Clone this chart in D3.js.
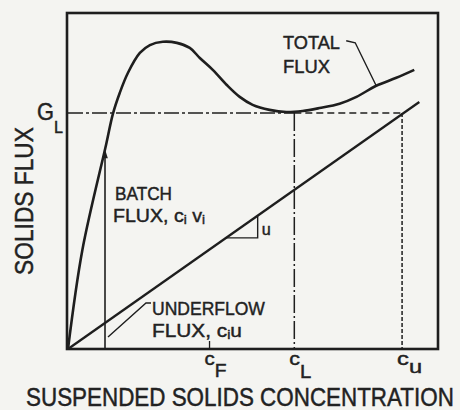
<!DOCTYPE html>
<html>
<head>
<meta charset="utf-8">
<script src="https://cdn.jsdelivr.net/npm/d3@7"></script>
<style>
body { margin: 0; background: #f4f4f1; }
svg { display: block; }
text { font-family: "Liberation Sans", Arial, sans-serif; fill: #222; stroke: #222; stroke-width: 0.45; }
</style>
</head>
<body>
<div id="chart"></div>
<script>
// total flux curve (concentration, flux)
var conc      = [0, 0.4, 1.06, 1.25, 1.44, 1.67, 2.0, 2.28, 2.64, 3.03, 3.39, 3.67, 4.03, 4.42, 4.78, 5.14, 5.61, 6.08, 6.53, 7.0, 7.56, 8.03, 8.58, 9.14, 9.64];
var totalFlux = [0, 2.75, 5.67, 6.53, 7.11, 7.67, 8.22, 8.44, 8.53, 8.5, 8.36, 8.08, 7.75, 7.33, 7.0, 6.78, 6.64, 6.58, 6.61, 6.69, 6.81, 7.0, 7.31, 7.53, 7.75];
// underflow line c*u
var underC    = [0, 9.78];
var underFlux = [0, 6.86];
// marked concentrations and limiting flux
var cF = 3.94, cL = 6.3, cU = 9.3, GL = 6.55;
var ci = 1.03, batchAtCi = 5.55;
// slope triangle on the underflow line
var triC = [4.4, 5.28];

var W = 460, H = 410;
var ink = "#1e1e1e";

var svg = d3.select("#chart").append("svg")
  .attr("width", W)
  .attr("height", H);

var x = d3.scaleLinear().domain([0, 10.3]).range([68, 438]);
var y = d3.scaleLinear().domain([0, 9.33]).range([349, 13]);

// frame
svg.append("rect")
  .attr("x", 67).attr("y", 13)
  .attr("width", 371).attr("height", 336)
  .attr("fill", "none").attr("stroke", ink).attr("stroke-width", 2.6);

// G_L line: dash-dot to cL, dashed on to cU
svg.append("line")
  .attr("x1", x(0)).attr("x2", x(cL)).attr("y1", y(GL)).attr("y2", y(GL))
  .attr("stroke", ink).attr("stroke-width", 1.5).attr("stroke-dasharray", "15,3,3,3");
svg.append("line")
  .attr("x1", x(cL)).attr("x2", x(cU)).attr("y1", y(GL)).attr("y2", y(GL))
  .attr("stroke", ink).attr("stroke-width", 1.5).attr("stroke-dasharray", "7,4");

// verticals at cL and cU
svg.append("line")
  .attr("x1", x(cL)).attr("x2", x(cL)).attr("y1", y(GL)).attr("y2", y(0))
  .attr("stroke", ink).attr("stroke-width", 1.5).attr("stroke-dasharray", "18,3,2,3");
svg.append("line")
  .attr("x1", x(cU)).attr("x2", x(cU)).attr("y1", y(GL)).attr("y2", y(0))
  .attr("stroke", ink).attr("stroke-width", 1.5).attr("stroke-dasharray", "4,2");

// cF tick
svg.append("line")
  .attr("x1", x(cF)).attr("x2", x(cF)).attr("y1", y(0) - 8).attr("y2", y(0))
  .attr("stroke", ink).attr("stroke-width", 1.3);

// batch flux arrow
svg.append("line")
  .attr("x1", x(ci)).attr("x2", x(ci)).attr("y1", y(batchAtCi) + 6).attr("y2", y(0))
  .attr("stroke", ink).attr("stroke-width", 1.6);
svg.append("path")
  .attr("d", "M" + x(ci) + "," + y(batchAtCi) + "l-2.8,9h5.6z")
  .attr("fill", ink);

// underflow line
svg.append("path")
  .datum(d3.zip(underC, underFlux))
  .attr("d", d3.line().x(function(d) { return x(d[0]); }).y(function(d) { return y(d[1]); }))
  .attr("fill", "none").attr("stroke", ink).attr("stroke-width", 2.3);

// slope triangle
var u = underFlux[1] / underC[1];
svg.append("path")
  .attr("d", "M" + x(triC[0]) + "," + y(triC[0] * u) +
             "L" + x(triC[1]) + "," + y(triC[0] * u) +
             "L" + x(triC[1]) + "," + y(triC[1] * u))
  .attr("fill", "none").attr("stroke", ink).attr("stroke-width", 1.4);

// total flux curve
svg.append("path")
  .datum(d3.zip(conc, totalFlux))
  .attr("d", d3.line().curve(d3.curveCatmullRom.alpha(0.5))
    .x(function(d) { return x(d[0]); }).y(function(d) { return y(d[1]); }))
  .attr("fill", "none").attr("stroke", ink).attr("stroke-width", 2.6);

// leaders
var tip = [x(8.58), y(7.31)];
svg.append("path")
  .attr("d", "M" + (tip[0] - 30) + "," + (tip[1] - 45) + "l9,2L" + tip[0] + "," + tip[1])
  .attr("fill", "none").attr("stroke", ink).attr("stroke-width", 1.4);
svg.append("path")
  .attr("d", "M" + (x(ci) + 46) + "," + (y(0) - 46) + "h-5L" + (x(ci) + 3) + "," + (y(0) - 12))
  .attr("fill", "none").attr("stroke", ink).attr("stroke-width", 1.4);

// text helper: parts = [string, dy, size]; squeezed to width
function label(px, py, parts, width, rot) {
  var g = svg.append("text");
  parts.forEach(function(p) {
    g.append("tspan").attr("y", p[1]).attr("font-size", p[2]).text(p[0]);
  });
  var k = width / g.node().getComputedTextLength();
  var tr = "translate(" + px + "," + py + ")" + (rot ? " rotate(-90)" : "") + " scale(" + k + ",1)";
  g.attr("transform", tr);
  if (rot) g.attr("text-anchor", "middle");
  return g;
}

label(283, 49, [["TOTAL", 0, 19]], 57);
label(283, 73, [["FLUX", 0, 19]], 47);
label(x(ci) + 10, 200, [["BATCH", 0, 19]], 57);
label(x(ci) + 8, 222, [["FLUX, c", 0, 19], ["i", 2, 13], [" v", 0, 19], ["i", 2, 13]], 92);
label(x(ci) + 47, 315, [["UNDERFLOW", 0, 19]], 113);
label(x(ci) + 47, 337, [["FLUX, c", 0, 19], ["i", 2, 13], ["u", 0, 19]], 90);
label(x(triC[1]) + 4, 235, [["u", 0, 17]], 9);

label(37, 120, [["G", 0, 23], ["L", 13, 17]], 26);
label(x(cF) - 5, 365, [["c", 0, 19], ["F", 12, 18]], 22);
label(x(cL) - 5, 365, [["c", 0, 19], ["L", 13, 18]], 22);
label(x(cU) - 5, 365, [["c", 0, 19], ["u", 8, 19]], 25);

label(26, 406, [["SUSPENDED  SOLIDS  CONCENTRATION", 0, 25]], 428);
label(33, 201, [["SOLIDS FLUX", 0, 26]], 148, true);
</script>
</body>
</html>
